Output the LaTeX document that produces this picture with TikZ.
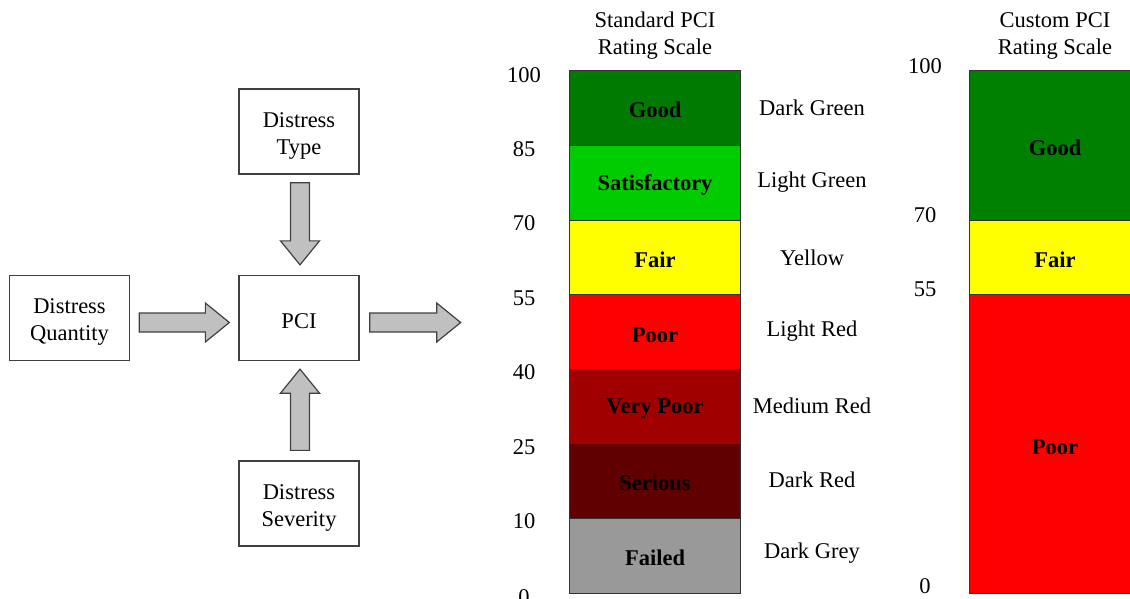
\documentclass[tikz,border=0pt]{standalone}
\usepackage{fontspec}
\setmainfont{Liberation Serif}
\usetikzlibrary{calc}
\definecolor{boxline}{HTML}{404040}
\definecolor{arrowfill}{HTML}{C0C0C0}
\definecolor{dgreen}{HTML}{007A00}
\definecolor{cgreen}{HTML}{008000}
\definecolor{lgreen}{HTML}{00CC00}
\definecolor{yel}{HTML}{FFFF00}
\definecolor{lred}{HTML}{FF0000}
\definecolor{mred}{HTML}{A00000}
\definecolor{dred}{HTML}{600000}
\definecolor{dgrey}{HTML}{999999}
\newcommand\twolines[2]{\raisebox{-4pt}[\height][\depth]{\begin{tabular}{@{}c@{}}#1\\#2\end{tabular}}}
\newcommand\oneline[1]{\raisebox{-3.5pt}[\height][\depth]{#1}}
\tikzset{
  txt/.style={font=\fontsize{22.5}{27}\selectfont, inner sep=0pt, align=center, yshift=-2.5pt},
  btxt/.style={font=\fontsize{22.5}{27}\selectfont\bfseries, inner sep=0pt, yshift=-2pt},
  inbox/.style={draw=boxline, line width=1.3pt, minimum width=120pt, minimum height=85pt,
    font=\fontsize{22.5}{27}\selectfont, inner sep=0pt},
  fat/.style={draw=boxline, line width=1.2pt, fill=arrowfill, line join=miter},
  band/.style={draw=black!80, line width=0.9pt},
}
\newcommand\fatarrow[2]{%
  \draw[fat] let \p1=(#1), \p2=(#2), \n1={atan2(\y2-\y1,\x2-\x1)}, \n2={veclen(\x2-\x1,\y2-\y1)} in
    [shift={(\p1)}, rotate=\n1]
    (0pt,-9.5pt) -- ({\n2*1pt-24pt},-9.5pt) -- ({\n2*1pt-24pt},-19.5pt) -- ({\n2*1pt},0pt)
    -- ({\n2*1pt-24pt},19.5pt) -- ({\n2*1pt-24pt},9.5pt) -- (0pt,9.5pt) -- cycle;}
\begin{document}
\begin{tikzpicture}[x=1pt,y=-1pt]
\useasboundingbox (0,0) rectangle (1130,598);
% left flow diagram
\node[inbox] (type) at (299,131.5) {\twolines{Distress}{Type}};
\node[inbox] (pci) at (299,318) {\oneline{PCI}};
\node[inbox] (qty) at (69.5,318) {\twolines{Distress}{Quantity}};
\node[inbox] (sev) at (299,503.5) {\twolines{Distress}{Severity}};
\coordinate (a1s) at ($(qty.east)+(9,4.5)$);
\coordinate (a1e) at ($(pci.west)+(-9,4.5)$);
\coordinate (a2s) at ($(type.south)+(1,8)$);
\coordinate (a2e) at ($(pci.north)+(1,-10)$);
\coordinate (a3s) at ($(sev.north)+(1,-10)$);
\coordinate (a3e) at ($(pci.south)+(1,8)$);
\coordinate (a4s) at ($(pci.east)+(10,4.5)$);
\coordinate (a4e) at ($(pci.east)+(101,4.5)$);
\fatarrow{a1s}{a1e}
\fatarrow{a2s}{a2e}
\fatarrow{a3s}{a3e}
\fatarrow{a4s}{a4e}
% standard scale
\node[txt] (st) at (655,33.5) {Standard PCI\\Rating Scale};
\path[band,fill=dgreen] (569,70) rectangle (740,145);
\path[band,fill=lgreen] (569,145) rectangle (740,220);
\path[band,fill=yel] (569,220) rectangle (740,294);
\path[band,fill=lred] (569,294) rectangle (740,369);
\path[band,fill=mred] (569,369) rectangle (740,443);
\path[band,fill=dred] (569,443) rectangle (740,518);
\path[band,fill=dgrey] (569,518) rectangle (740,593);
\node[btxt] (sgood) at (655,108) {Good};
\node[btxt] (ssat) at (655,183) {Satisfactory};
\node[btxt] (sfair) at (655,258) {Fair};
\node[btxt] (spoor) at (655,333) {Poor};
\node[btxt] (svpoor) at (655,407) {Very Poor};
\node[btxt] (sser) at (655,481) {Serious};
\node[btxt] (sfail) at (655,556) {Failed};
\node[txt] (n100) at (524,73) {100};
\node[txt] (n85) at (524,147) {85};
\node[txt] (n70) at (524,221) {70};
\node[txt] (n55) at (524,296) {55};
\node[txt] (n40) at (524,370) {40};
\node[txt] (n25) at (524,445) {25};
\node[txt] (n10) at (524,519) {10};
\node[txt] (n0) at (524,595) {0};
\node[txt] (c1) at (812,105) {Dark Green};
\node[txt] (c2) at (812,180) {Light Green};
\node[txt] (c3) at (812,255) {Yellow};
\node[txt] (c4) at (812,329) {Light Red};
\node[txt] (c5) at (812,403) {Medium Red};
\node[txt] (c6) at (812,477) {Dark Red};
\node[txt] (c7) at (812,551) {Dark Grey};
% custom scale
\node[txt] (ct) at (1055,33.5) {Custom PCI\\Rating Scale};
\path[band,fill=cgreen] (969,70) rectangle (1141,220);
\path[band,fill=yel] (969,220) rectangle (1141,294);
\path[band,fill=lred] (969,294) rectangle (1141,593);
\node[btxt] (cgood) at (1055,146) {Good};
\node[btxt] (cfair) at (1055,258) {Fair};
\node[btxt] (cpoor) at (1055,445) {Poor};
\node[txt] (m100) at (925,64) {100};
\node[txt] (m70) at (925,213) {70};
\node[txt] (m55) at (925,287) {55};
\node[txt] (m0) at (925,584) {0};
\end{tikzpicture}
\end{document}
